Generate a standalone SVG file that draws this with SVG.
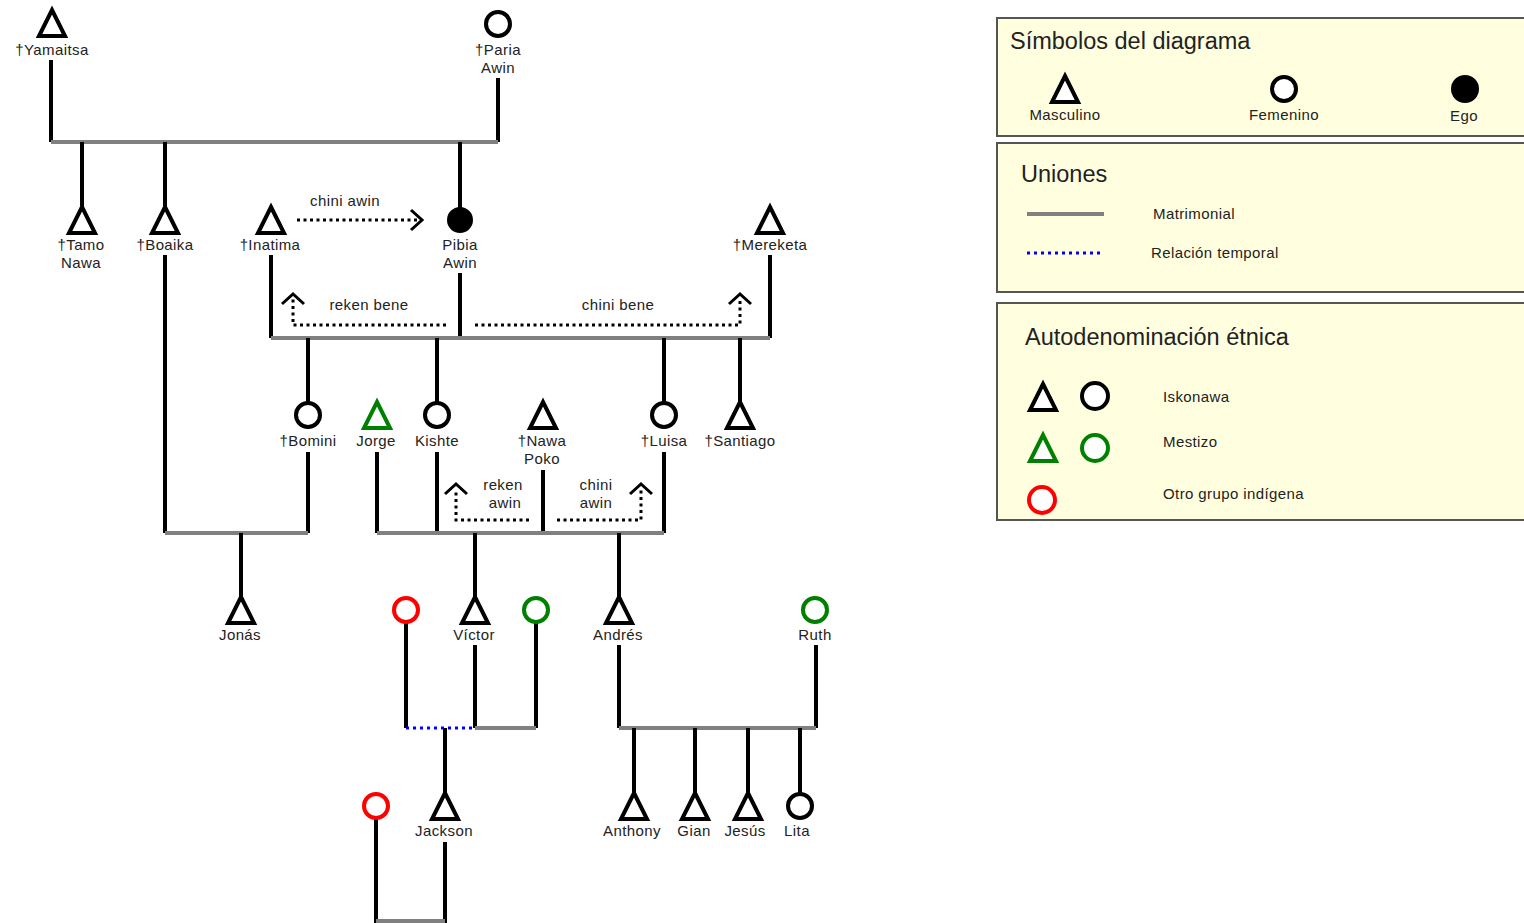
<svg xmlns="http://www.w3.org/2000/svg" width="1524" height="923" viewBox="0 0 1524 923">
<style>
text{font-family:"Liberation Sans",Arial,sans-serif;font-size:15px;fill:#222;text-anchor:middle;letter-spacing:0.4px}
.lg{text-anchor:start}
.ttl{text-anchor:start;font-size:23.5px;letter-spacing:0}
.m{fill:#fff;stroke:#000;stroke-width:4;stroke-linejoin:miter}
.f{fill:#fff;stroke:#000;stroke-width:4}
.ego{fill:#000;stroke:#000;stroke-width:2}
.g{stroke:#008000}
.r{stroke:#ff0000}
.d{stroke:#000;stroke-width:4;fill:none}
.u{stroke:#808080;stroke-width:4;fill:none}
.t{stroke:#0000ff;stroke-width:3;stroke-dasharray:3 4;fill:none}
.ar{stroke:#000;stroke-width:3;stroke-dasharray:3 3.5;fill:none}
.ah{stroke:#000;stroke-width:3;fill:none}
.box{fill:#ffffe0;stroke:#555;stroke-width:2}
</style>
<defs>
<path id="tri" d="M0,-13 L13,13 L-13,13 Z"/>
</defs>
<g id="connectors">
<path class="d" d="M51,60 V142 M498,78 V142"/>
<path class="u" d="M51,142 H498"/>
<path class="d" d="M82,142 V206 M165,142 V206 M460,142 V208"/>
<path class="d" d="M165,255 V533 M271,255 V338 M460,273 V338 M770,255 V338"/>
<path class="u" d="M271,338 H770"/>
<path class="d" d="M308,338 V403 M437,338 V403 M664,338 V403 M740,338 V403"/>
<path class="ar" d="M297,220 H420"/>
<path class="ah" d="M411,210 L422,220 L411,230"/>
<path class="ar" d="M446,325 H293 V298"/>
<path class="ah" d="M282,304 L293,294 L304,304"/>
<path class="ar" d="M475,325 H740 V298"/>
<path class="ah" d="M729,304 L740,294 L751,304"/>
<path class="d" d="M308,452 V533 M377,452 V533 M437,452 V533 M543,470 V533 M664,452 V533"/>
<path class="u" d="M165,533 H308 M377,533 H664"/>
<path class="d" d="M241,533 V597 M475,533 V597 M619,533 V597"/>
<path class="ar" d="M529,520 H456 V489"/>
<path class="ah" d="M445,494 L456,484 L467,494"/>
<path class="ar" d="M557,520 H641 V489"/>
<path class="ah" d="M630,494 L641,484 L652,494"/>
<path class="d" d="M406,622 V728 M475,645 V728 M536,622 V728 M619,645 V728 M816,645 V728"/>
<path class="t" d="M406,728 H475"/>
<path class="u" d="M475,728 H536 M619,728 H816"/>
<path class="d" d="M445,728 V793 M634,728 V793 M695,728 V793 M748,728 V793 M800,728 V794"/>
<path class="d" d="M376,818 V923 M445,842 V923"/>
<path class="u" d="M376,921 H445"/>
</g>
<g id="n-yamaitsa"><use href="#tri" x="52" y="23" class="m"/><text x="52" y="55">†Yamaitsa</text></g>
<g id="n-paria"><circle cx="498" cy="24" r="12" class="f"/><text x="498" y="55">†Paria</text><text x="498" y="73">Awin</text></g>
<g id="n-tamo"><use href="#tri" x="82" y="220" class="m"/><text x="81" y="250">†Tamo</text><text x="81" y="268">Nawa</text></g>
<g id="n-boaika"><use href="#tri" x="165" y="220" class="m"/><text x="165" y="250">†Boaika</text></g>
<g id="n-inatima"><use href="#tri" x="271" y="220" class="m"/><text x="270" y="250">†Inatima</text></g>
<g id="n-pibia"><circle cx="460" cy="220" r="12" class="ego"/><text x="460" y="250">Pibia</text><text x="460" y="268">Awin</text></g>
<g id="n-mereketa"><use href="#tri" x="770" y="220" class="m"/><text x="770" y="250">†Mereketa</text></g>
<g id="n-bomini"><circle cx="308" cy="415" r="12" class="f"/><text x="308" y="446">†Bomini</text></g>
<g id="n-jorge"><use href="#tri" x="377" y="415" class="m g"/><text x="376" y="446">Jorge</text></g>
<g id="n-kishte"><circle cx="437" cy="415" r="12" class="f"/><text x="437" y="446">Kishte</text></g>
<g id="n-nawapoko"><use href="#tri" x="543" y="415" class="m"/><text x="542" y="446">†Nawa</text><text x="542" y="464">Poko</text></g>
<g id="n-luisa"><circle cx="664" cy="415" r="12" class="f"/><text x="664" y="446">†Luisa</text></g>
<g id="n-santiago"><use href="#tri" x="740" y="415" class="m"/><text x="740" y="446">†Santiago</text></g>
<g id="n-jonas"><use href="#tri" x="241" y="610" class="m"/><text x="240" y="640">Jonás</text></g>
<g id="n-red1"><circle cx="406" cy="610" r="12" class="f r"/></g>
<g id="n-victor"><use href="#tri" x="475" y="610" class="m"/><text x="474" y="640">Víctor</text></g>
<g id="n-green1"><circle cx="536" cy="610" r="12" class="f g"/></g>
<g id="n-andres"><use href="#tri" x="619" y="610" class="m"/><text x="618" y="640">Andrés</text></g>
<g id="n-ruth"><circle cx="815" cy="610" r="12" class="f g"/><text x="815" y="640">Ruth</text></g>
<g id="n-red2"><circle cx="376" cy="806" r="12" class="f r"/></g>
<g id="n-jackson"><use href="#tri" x="445" y="806" class="m"/><text x="444" y="836">Jackson</text></g>
<g id="n-anthony"><use href="#tri" x="634" y="806" class="m"/><text x="632" y="836">Anthony</text></g>
<g id="n-gian"><use href="#tri" x="695" y="806" class="m"/><text x="694" y="836">Gian</text></g>
<g id="n-jesus"><use href="#tri" x="748" y="806" class="m"/><text x="745" y="836">Jesús</text></g>
<g id="n-lita"><circle cx="800" cy="806" r="12" class="f"/><text x="797" y="836">Lita</text></g>
<g id="relation-labels">
<text x="345" y="206">chini awin</text>
<text x="369" y="310">reken bene</text>
<text x="618" y="310">chini bene</text>
<text x="503" y="490">reken</text>
<text x="505" y="508">awin</text>
<text x="596" y="490">chini</text>
<text x="596" y="508">awin</text>
</g>
<g id="legend-symbols">
<rect class="box" x="997" y="18" width="530" height="118"/>
<text class="ttl" x="1010" y="49">Símbolos del diagrama</text>
<use href="#tri" x="1065" y="89" class="m"/>
<text x="1065" y="120">Masculino</text>
<circle cx="1284" cy="89" r="12" class="f"/>
<text x="1284" y="120">Femenino</text>
<circle cx="1465" cy="89" r="13" class="ego"/>
<text x="1464" y="121">Ego</text>
</g>
<g id="legend-unions">
<rect class="box" x="997" y="143" width="530" height="149"/>
<text class="ttl" x="1021" y="182">Uniones</text>
<path class="u" d="M1027,214 H1104"/>
<text class="lg" x="1153" y="219">Matrimonial</text>
<path class="t" d="M1027,253 H1100"/>
<text class="lg" x="1151" y="258">Relación temporal</text>
</g>
<g id="legend-ethnic">
<rect class="box" x="997" y="303" width="530" height="217"/>
<text class="ttl" x="1025" y="345">Autodenominación étnica</text>
<use href="#tri" x="1043" y="397" class="m"/>
<circle cx="1095" cy="396" r="13" class="f"/>
<text class="lg" x="1163" y="402">Iskonawa</text>
<use href="#tri" x="1043" y="448" class="m g"/>
<circle cx="1095" cy="448" r="13" class="f g"/>
<text class="lg" x="1163" y="447">Mestizo</text>
<circle cx="1042" cy="500" r="13" class="f r"/>
<text class="lg" x="1163" y="499">Otro grupo indígena</text>
</g>
</svg>
